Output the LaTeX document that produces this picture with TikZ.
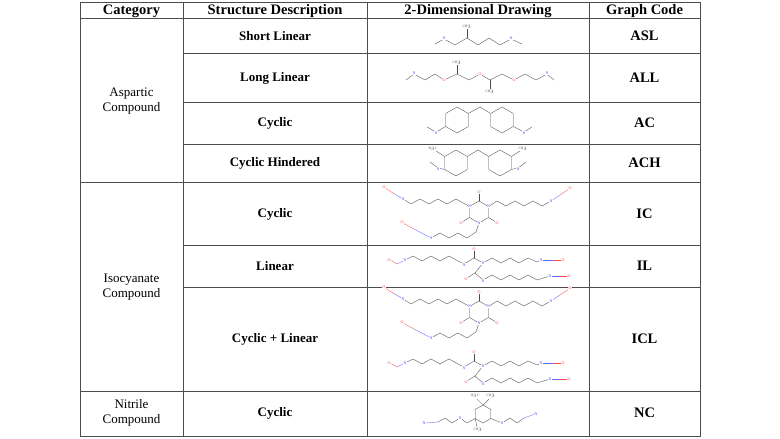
\documentclass[tikz,border=0pt]{standalone}
\usepackage{fontspec}
\setmainfont{Liberation Serif}
\usetikzlibrary{positioning}

\tikzset{
	grid/.style={line width=0.6pt, black!70},
	bond/.style={line width=0.35pt, black!70},
	natom/.style={text=blue!70, fill=white, font=\fontsize{4}{4}\selectfont, inner sep=0.2pt},
	oatom/.style={text=red!80, fill=white, font=\fontsize{4}{4}\selectfont, inner sep=0.2pt},
	catom/.style={text=black!70, fill=white, font=\fontsize{3.5}{3.5}\selectfont, inner sep=0.2pt},
	head/.style={font=\fontsize{14.5}{16}\selectfont\bfseries},
	cell/.style={font=\fontsize{13}{15}\selectfont, align=center},
	desc/.style={font=\fontsize{13}{15}\selectfont\bfseries, align=center},
	code/.style={font=\fontsize{14.5}{16}\selectfont\bfseries},
}

\begin{document}
\begin{tikzpicture}[x=1pt,y=-1pt]
	\useasboundingbox (0,0) rectangle (780,439);
	\fill[white] (0,0) rectangle (780,439);

	% table lines
	\draw[grid] (80,2) rectangle (700,436);
	\draw[grid] (183,2) -- (183,436);
	\draw[grid] (367,2) -- (367,436);
	\draw[grid] (589,2) -- (589,436);
	\draw[grid] (80,18) -- (700,18);
	\draw[grid] (80,182) -- (700,182);
	\draw[grid] (80,391) -- (700,391);
	\foreach \y in {53,102,144,245,287}
		\draw[grid] (183,\y) -- (700,\y);

	% header
	\node[head] (hcat) at (131.5,11) {Category};
	\node[head] (hdesc) at (275,11) {Structure Description};
	\node[head] (hdraw) at (478,11) {2-Dimensional Drawing};
	\node[head] (hcode) at (644.5,11) {Graph Code};

	% categories
	\node[cell] (casp) at (131.5,101) {Aspartic\\Compound};
	\node[cell] (ciso) at (131.5,287) {Isocyanate\\Compound};
	\node[cell] (cnit) at (131.5,413) {Nitrile\\Compound};

	% descriptions
	\node[desc] (dasl) at (275,36) {Short Linear};
	\node[desc] (dall) at (275,78) {Long Linear};
	\node[desc] (dac) at (275,123) {Cyclic};
	\node[desc] (dach) at (275,163) {Cyclic Hindered};
	\node[desc] (dic) at (275,214) {Cyclic};
	\node[desc] (dil) at (275,266) {Linear};
	\node[desc] (dicl) at (275,339) {Cyclic + Linear};
	\node[desc] (dnc) at (275,413) {Cyclic};

	% graph codes
	\node[code] (gasl) at (644.5,36) {ASL};
	\node[code] (gall) at (644.5,78) {ALL};
	\node[code] (gac) at (644.5,123) {AC};
	\node[code] (gach) at (644.5,163) {ACH};
	\node[code] (gic) at (644.5,214) {IC};
	\node[code] (gil) at (644.5,266) {IL};
	\node[code] (gicl) at (644.5,339) {ICL};
	\node[code] (gnc) at (644.5,413) {NC};

	% short linear
	\draw[bond] (435,44) -- (444,39) -- (455,45) -- (467,38) -- (478,45) -- (489,38) -- (500,45) -- (511,39) -- (522,44);
	\draw[bond] (467,38) -- (467,29);
	\node[catom] at (467,27) {CH$_3$};
	\node[natom] at (444,38) {N};
	\node[natom] at (511,38) {N};

	% long linear
	\draw[bond] (406,80) -- (414,74) -- (425,80) -- (435,74) -- (444,80) -- (457,74) -- (469,80) -- (480,74) -- (490,80) -- (502,74) -- (514,80) -- (525,74) -- (536,80) -- (547,74) -- (554,80);
	\draw[bond] (457,74) -- (457,65);
	\draw[bond] (490,80) -- (490,89);
	\node[catom] at (457,63) {CH$_3$};
	\node[catom] at (490,92) {CH$_3$};
	\node[natom] at (414,73) {N};
	\node[natom] at (547,73) {N};
	\node[oatom] at (444,80) {O};
	\node[oatom] at (480,74) {O};
	\node[oatom] at (514,80) {O};

	% cyclic
	\foreach \cx in {457,502}
		\draw[bond] (\cx,107) -- ++(11.3,6.5) -- ++(0,13) -- ++(-11.3,6.5) -- ++(-11.3,-6.5) -- ++(0,-13) -- cycle;
	\draw[bond] (468.3,113.5) -- (480,107) -- (490.7,113.5);
	\draw[bond] (445.7,126.5) -- (436,132) -- (427,127);
	\draw[bond] (513.3,126.5) -- (524,132) -- (532,127);
	\node[natom] at (436,133) {N};
	\node[natom] at (524,133) {N};

	% cyclic hindered
	\foreach \cx in {456,500}
		\draw[bond] (\cx,150) -- ++(11.3,6.5) -- ++(0,13) -- ++(-11.3,6.5) -- ++(-11.3,-6.5) -- ++(0,-13) -- cycle;
	\draw[bond] (467.3,156.5) -- (478,150) -- (488.7,156.5);
	\draw[bond] (444.7,156.5) -- (436,151);
	\draw[bond] (511.3,156.5) -- (520,151);
	\node[catom] at (433,149) {H$_3$C};
	\node[catom] at (523,149) {CH$_3$};
	\draw[bond] (444.7,169.5) -- (438,168) -- (430,162);
	\draw[bond] (511.3,169.5) -- (518,168) -- (526,162);
	\node[natom] at (438,169) {N};
	\node[natom] at (518,169) {N};

	% isocyanurate blocks, plain and in cyclic + linear
	\foreach \dy in {0,100} {
		\begin{scope}[yshift=-\dy]
			\draw[bond] (479,201) -- (488.5,206.5) -- (488.5,217.5) -- (479,223) -- (469.5,217.5) -- (469.5,206.5) -- cycle;
			\draw[bond] (479,201) -- (479,193);
			\draw[bond] (488.5,217.5) -- (496,222);
			\draw[bond] (469.5,217.5) -- (462,222);
			\draw[bond] (403,199) -- (411,204) -- (420,199) -- (429,204) -- (438,199) -- (447,204) -- (456,199) -- (465,204) -- (469.5,206.5);
			\draw[bond] (488.5,206.5) -- (497,201) -- (506,206) -- (515,201) -- (524,206) -- (533,201) -- (542,206) -- (551,201);
			\draw[bond] (479,223) -- (476,232) -- (467,238) -- (458,233) -- (449,238) -- (440,233) -- (431,238);
			\draw[bond, blue!60] (403,199) -- (393,193);
			\draw[bond, red!70] (393,193) -- (385,188);
			\draw[bond, blue!60] (551,201) -- (560,195);
			\draw[bond, red!70] (560,195) -- (569,189);
			\draw[bond, blue!60] (431,238) -- (414,229);
			\draw[bond, red!70] (414,229) -- (403,223);
			\node[natom] at (488.5,206.5) {N};
			\node[natom] at (469.5,206.5) {N};
			\node[natom] at (479,223) {N};
			\node[natom] at (403,199) {N};
			\node[natom] at (551,201) {N};
			\node[natom] at (431,238) {N};
			\node[oatom] at (479,192) {O};
			\node[oatom] at (497,223) {O};
			\node[oatom] at (461,223) {O};
			\node[oatom] at (384,187) {O};
			\node[oatom] at (570,188) {O};
			\node[oatom] at (402,222) {O};
		\end{scope}
	}

	% biuret blocks, plain and in cyclic + linear
	\foreach \dy in {0,103} {
		\begin{scope}[yshift=-\dy]
			\draw[bond] (405,260) -- (413,256) -- (422,261) -- (431,256) -- (440,261) -- (449,256) -- (458,261) -- (464,264) -- (474,258) -- (483,263);
			\draw[bond] (474,258) -- (474,250);
			\draw[bond] (483,263) -- (492,258) -- (501,263) -- (510,258) -- (519,263) -- (528,258) -- (537,262) -- (541,260);
			\draw[bond] (483,263) -- (475,273) -- (483,280);
			\draw[bond] (475,273) -- (467,278);
			\draw[bond] (483,280) -- (492,275) -- (501,280) -- (510,275) -- (519,280) -- (528,275) -- (537,280) -- (550,276);
			\draw[bond, blue!60] (405,260) -- (397,264);
			\draw[bond, red!70] (397,264) -- (390,260);
			\draw[bond, blue!60] (541,260) -- (553,260);
			\draw[bond, red!70] (553,260) -- (562,260);
			\draw[bond, blue!60] (550,276) -- (560,276);
			\draw[bond, red!70] (560,276) -- (568,276);
			\node[natom] at (405,260) {N};
			\node[natom] at (464,265) {N};
			\node[natom] at (483,263) {N};
			\node[natom] at (483,281) {N};
			\node[natom] at (541,260) {N};
			\node[natom] at (550,276) {N};
			\node[oatom] at (389,260) {O};
			\node[oatom] at (474,249) {O};
			\node[oatom] at (466,279) {O};
			\node[oatom] at (563,260) {O};
			\node[oatom] at (569,276) {O};
		\end{scope}
	}

	% nitrile cyclic
	\draw[bond] (483,405) -- (490.8,409.5) -- (490.8,418.5) -- (483,423) -- (475.2,418.5) -- (475.2,409.5) -- cycle;
	\draw[bond] (483,405) -- (477,399);
	\draw[bond] (483,405) -- (489,399);
	\node[catom] at (475,396) {H$_3$C};
	\node[catom] at (491,396) {CH$_3$};
	\draw[bond] (475.2,418.5) -- (477,427);
	\node[catom] at (478,430) {CH$_3$};
	\draw[bond] (475.2,418.5) -- (467,423) -- (460,418) -- (452,423) -- (445,418) -- (438,422);
	\draw[bond, blue!60] (438,422) -- (425,423);
	\node[natom] at (460,418) {N};
	\node[natom] at (424,423) {N};
	\draw[bond] (490.8,418.5) -- (502,423) -- (510,418) -- (517,423) -- (524,418);
	\draw[bond, blue!60] (524,418) -- (535,414);
	\node[natom] at (502,423) {N};
	\node[natom] at (536,414) {N};
\end{tikzpicture}
\end{document}
